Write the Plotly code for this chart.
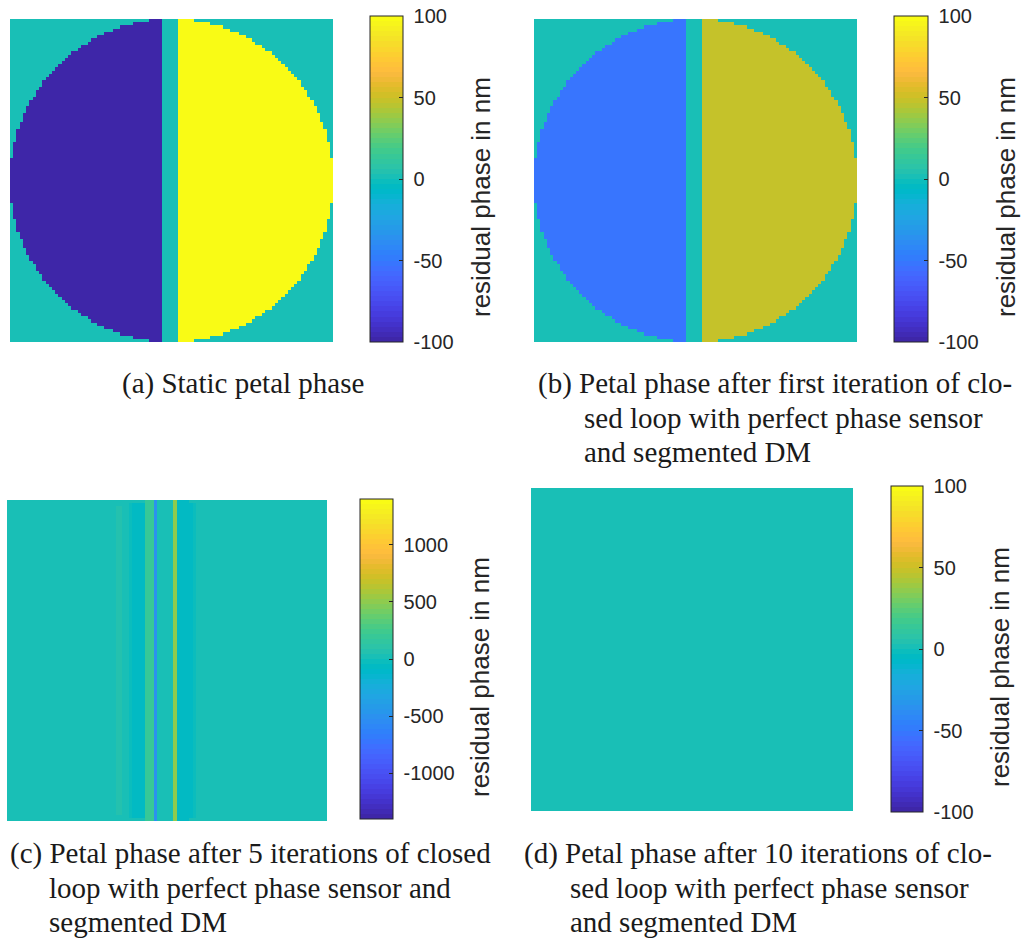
import numpy as np
import plotly.graph_objects as go

# ---------------------------------------------------------------------------
# Data
# ---------------------------------------------------------------------------
GRID_N = 100                 # pupil sampling (pixels across)
GAP_FIRST, GAP_LAST = 47, 51  # spider gap columns separating the two petals

# Piston of the left / right petal (nm)
static_left, static_right = -100.0, 100.0
iter1_left, iter1_right = -51.0, 49.0
iter10_left, iter10_right = 0.5, 1.0

# Residual phase per pupil column after 5 iterations (nm)
iter5_columns = [
    0, 2, 3, 4, 4, 5, 5, 6, 6, 6,
    8, 8, 10, 10, 12, 12, 12, 14, 14, 14,
    15, 15, 18, 18, 20, 20, 22, 22, 25, 25,
    30, 30, 35, 40, 45, 50, 40, 20,
    -40, -60, -70, -75, -70,
    180, 200, 210,
    -500,
    0, 0, 0, 0, 0,
    500,
    -70, -75, -70, -60, -50,
    -20, 10, 30, 30, 25, 20,
    15, 10, 5, 4, 3, 2, 2,
    2, 1, 1, 1, 1, 1, 2, 2, 3, 3,
    4, 4, 4, 5, 5, 5, 5, 6, 6, 6, 6, 8, 8, 8, 10, 10, 10, 10, 10,
]

# Colour-bar ticks
ticks_100 = [-100, -50, 0, 50, 100]
ticks_1000 = [-1000, -500, 0, 500, 1000]
range_100 = (-100, 100)
range_1400 = (-1400, 1400)

captions = {
    "a": ["(a) Static petal phase"],
    "b": ["(b) Petal phase after first iteration of clo-",
          "sed loop with perfect phase sensor",
          "and segmented DM"],
    "c": ["(c) Petal phase after 5 iterations of closed",
          "loop with perfect phase sensor and",
          "segmented DM"],
    "d": ["(d) Petal phase after 10 iterations of clo-",
          "sed loop with perfect phase sensor",
          "and segmented DM"],
}
cbar_title = "residual phase in nm"

# ---------------------------------------------------------------------------
# Parula colour map (64 discrete entries, as used for indexed images)
# ---------------------------------------------------------------------------
PARULA = [
    (0.2422, 0.1504, 0.6603), (0.2504, 0.1650, 0.7076), (0.2578, 0.1818, 0.7511),
    (0.2647, 0.1978, 0.7952), (0.2706, 0.2147, 0.8364), (0.2751, 0.2342, 0.8710),
    (0.2783, 0.2559, 0.8991), (0.2803, 0.2782, 0.9221), (0.2813, 0.3006, 0.9414),
    (0.2810, 0.3228, 0.9579), (0.2795, 0.3447, 0.9717), (0.2760, 0.3667, 0.9829),
    (0.2699, 0.3892, 0.9906), (0.2602, 0.4123, 0.9952), (0.2440, 0.4358, 0.9988),
    (0.2206, 0.4603, 0.9973), (0.1963, 0.4847, 0.9892), (0.1834, 0.5074, 0.9798),
    (0.1786, 0.5289, 0.9682), (0.1764, 0.5499, 0.9520), (0.1687, 0.5703, 0.9359),
    (0.1540, 0.5902, 0.9218), (0.1460, 0.6091, 0.9079), (0.1380, 0.6276, 0.8973),
    (0.1248, 0.6459, 0.8883), (0.1113, 0.6635, 0.8763), (0.0952, 0.6798, 0.8598),
    (0.0689, 0.6948, 0.8394), (0.0297, 0.7082, 0.8163), (0.0036, 0.7203, 0.7917),
    (0.0067, 0.7312, 0.7660), (0.0433, 0.7411, 0.7394), (0.0964, 0.7500, 0.7120),
    (0.1408, 0.7584, 0.6842), (0.1717, 0.7670, 0.6554), (0.1938, 0.7758, 0.6251),
    (0.2161, 0.7843, 0.5923), (0.2470, 0.7918, 0.5567), (0.2906, 0.7973, 0.5188),
    (0.3406, 0.8008, 0.4789), (0.3909, 0.8029, 0.4354), (0.4456, 0.8024, 0.3909),
    (0.5044, 0.7993, 0.3480), (0.5616, 0.7942, 0.3045), (0.6174, 0.7876, 0.2612),
    (0.6720, 0.7793, 0.2227), (0.7242, 0.7698, 0.1910), (0.7738, 0.7598, 0.1646),
    (0.8203, 0.7498, 0.1535), (0.8634, 0.7406, 0.1596), (0.9035, 0.7330, 0.1774),
    (0.9393, 0.7288, 0.2100), (0.9728, 0.7298, 0.2394), (0.9956, 0.7434, 0.2371),
    (0.9970, 0.7659, 0.2199), (0.9952, 0.7893, 0.2028), (0.9892, 0.8136, 0.1885),
    (0.9786, 0.8386, 0.1766), (0.9676, 0.8639, 0.1643), (0.9610, 0.8890, 0.1537),
    (0.9597, 0.9135, 0.1423), (0.9628, 0.9373, 0.1265), (0.9691, 0.9606, 0.1064),
    (0.9769, 0.9839, 0.0805),
]
n_bins = len(PARULA)
parula = []
for i, (r, g, b) in enumerate(PARULA):
    c = "rgb(%d,%d,%d)" % (round(r * 255), round(g * 255), round(b * 255))
    parula.append([i / n_bins, c])
    parula.append([(i + 1) / n_bins, c])

# ---------------------------------------------------------------------------
# Pupil geometry and phase maps
# ---------------------------------------------------------------------------
rows, cols = np.mgrid[0:GRID_N, 0:GRID_N]
half = GRID_N / 2
pupil = (cols + 0.5 - half) ** 2 + (rows + 0.5 - half) ** 2 <= half ** 2
left_petal = pupil & (cols < GAP_FIRST)
right_petal = pupil & (cols > GAP_LAST)


def petal_map(left_val, right_val):
    z = np.zeros((GRID_N, GRID_N))
    z[left_petal] = left_val
    z[right_petal] = right_val
    return z


z_a = petal_map(static_left, static_right)
z_b = petal_map(iter1_left, iter1_right)
z_c = np.where(pupil, np.tile(np.array(iter5_columns, float), (GRID_N, 1)), 0.0)
z_d = petal_map(iter10_left, iter10_right)

# ---------------------------------------------------------------------------
# Figure
# ---------------------------------------------------------------------------
W, H = 1030, 940


def fx(px):
    return px / W


def fy(py):
    return 1 - py / H


# panel: (z, image box [x0, x1, y0, y1] px, colour bar box [x0, x1, y0, y1] px, range, ticks)
panels = [
    (z_a, (10, 333, 19, 342), (370, 403, 16, 342), range_100, ticks_100),
    (z_b, (534, 857, 19, 342), (894, 928, 16, 342), range_100, ticks_100),
    (z_c, (7, 327, 500, 821), (360, 393, 499, 819), range_1400, ticks_1000),
    (z_d, (531, 853, 488, 811), (891, 923, 486, 812), range_100, ticks_100),
]

fig = go.Figure()
layout = dict(
    width=W, height=H,
    margin=dict(l=0, r=0, t=0, b=0),
    paper_bgcolor="white", plot_bgcolor="white",
    showlegend=False,
)

axis_color = "#262626"
for k, (z, img, cb, zr, tv) in enumerate(panels, start=1):
    sfx = "" if k == 1 else str(k)
    fig.add_trace(go.Heatmap(
        z=z, x=list(range(GRID_N)), y=list(range(GRID_N)),
        coloraxis="coloraxis" + sfx,
        xaxis="x" + sfx, yaxis="y" + sfx,
        hoverinfo="skip",
    ))
    layout["xaxis" + sfx] = dict(
        domain=[fx(img[0]), fx(img[1])], range=[-0.5, GRID_N - 0.5],
        visible=False, anchor="y" + sfx, fixedrange=True,
    )
    layout["yaxis" + sfx] = dict(
        domain=[fy(img[3]), fy(img[2])], range=[GRID_N - 0.5, -0.5],
        visible=False, anchor="x" + sfx, fixedrange=True,
    )
    layout["coloraxis" + sfx] = dict(
        colorscale=parula, cmin=zr[0], cmax=zr[1],
        colorbar=dict(
            x=fx(cb[0]), xanchor="left",
            y=fy(cb[2]), yanchor="top",
            len=cb[3] - cb[2], lenmode="pixels",
            thickness=cb[1] - cb[0], thicknessmode="pixels",
            xpad=0, ypad=0,
            outlinewidth=1, outlinecolor=axis_color,
            ticks="inside", ticklen=4, tickwidth=1, tickcolor=axis_color,
            tickvals=tv, ticktext=["\u00a0" + str(v) for v in tv],
            tickfont=dict(family="Liberation Sans, Arial, sans-serif", size=20,
                          color=axis_color),
        ),
    )

fig.update_layout(**layout)

annotations = []
# colour-bar labels
for cx, cy in [(481, 197), (1006, 197), (480, 677), (1000, 667)]:
    annotations.append(dict(
        x=fx(cx), y=fy(cy), xref="paper", yref="paper",
        text=cbar_title, textangle=-90, showarrow=False,
        xanchor="center", yanchor="middle",
        font=dict(family="Liberation Sans, Arial, sans-serif", size=26, color=axis_color),
    ))

# sub-figure captions: (first-line x, continuation x, first-line y)
caption_pos = {"a": (120, 120, 383), "b": (536, 582, 383),
               "c": (8, 47, 853), "d": (522, 568, 853)}
line_step = 34.5
for key, lines in captions.items():
    x_first, x_cont, y_first = caption_pos[key]
    for i, line in enumerate(lines):
        annotations.append(dict(
            x=fx(x_first if i == 0 else x_cont), y=fy(y_first + i * line_step),
            xref="paper", yref="paper", text=line, showarrow=False,
            xanchor="left", yanchor="middle",
            font=dict(family="Liberation Serif, Times New Roman, serif", size=29,
                      color="#1a1a1a"),
        ))

fig.update_layout(annotations=annotations)
fig.write_html("out.html")
